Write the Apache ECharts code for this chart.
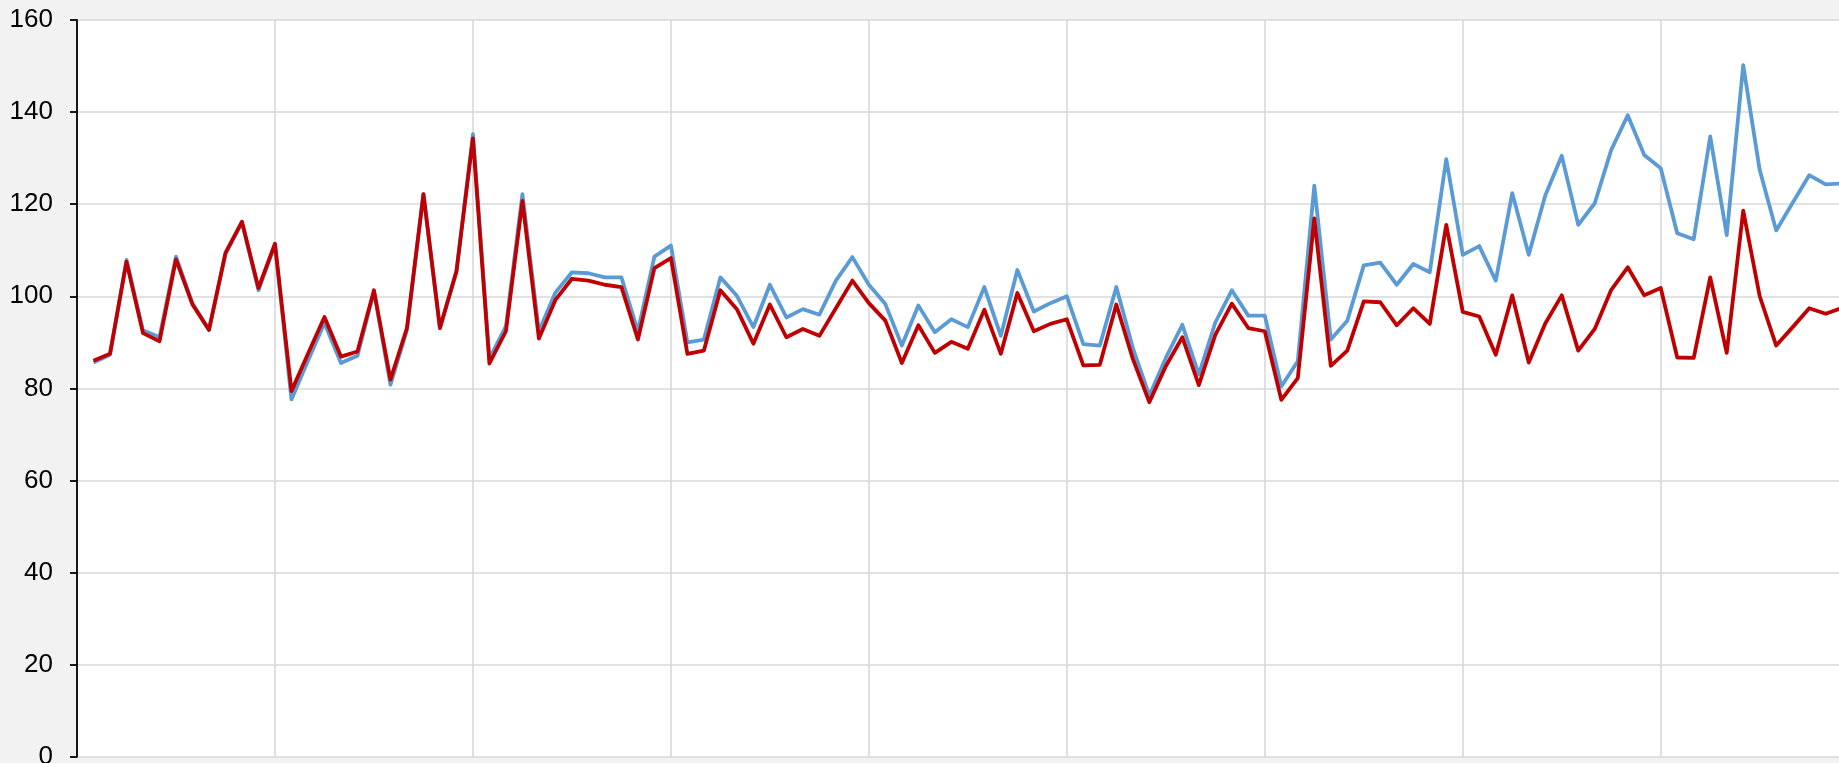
<!DOCTYPE html>
<html>
<head>
<meta charset="utf-8">
<script src="https://cdn.jsdelivr.net/npm/echarts@6/dist/echarts.min.js"></script>
<style>
html,body{margin:0;padding:0;background:#f2f2f2;}
#chart{width:1839px;height:763px;}
</style>
</head>
<body>
<div id="chart"></div>
<script>
// Period index of the first data point (axis starts one period earlier, at 0)
const firstPeriod = 1;
const periodsPerGridLine = 12;
const yTicks = [0, 20, 40, 60, 80, 100, 120, 140, 160];

const seriesBlue = [
  85.6, 87.3, 107.9, 92.6, 91.1, 108.6, 98.5, 92.7, 109.2, 116.0, 101.3, 111.2,
  77.6, 86.0, 94.2, 85.5, 87.1, 101.0, 80.8, 92.7, 122.2, 93.1, 105.4, 135.2,
  86.4, 93.5, 122.2, 92.4, 100.8, 105.2, 105.0, 104.1, 104.1, 92.4, 108.6, 111.0,
  90.0, 90.6, 104.1, 100.1, 93.3, 102.5, 95.4, 97.2, 96.0, 103.4, 108.5, 102.5,
  98.3, 89.3, 98.0, 92.2, 95.0, 93.3, 102.0, 91.4, 105.7, 96.7, 98.5, 100.0,
  89.6, 89.3, 102.0, 88.8, 78.4, 86.6, 93.8, 83.0, 94.3, 101.3, 95.8, 95.8,
  80.4, 85.9, 124.0, 90.6, 94.7, 106.7, 107.3, 102.5, 107.0, 105.2, 129.8, 109.0,
  110.9, 103.4, 122.4, 109.0, 121.9, 130.5, 115.5, 120.2, 131.8, 139.3, 130.7, 127.8,
  113.7, 112.4, 134.7, 113.3, 150.2, 127.4, 114.3, 120.3, 126.3, 124.3, 124.5
];

const seriesRed = [
  86.0, 87.5, 107.5, 92.0, 90.2, 108.0, 98.2, 92.7, 109.4, 116.2, 101.8, 111.4,
  79.4, 87.5, 95.5, 86.9, 88.0, 101.3, 81.9, 93.1, 122.2, 93.1, 105.4, 134.3,
  85.4, 92.4, 120.7, 90.8, 99.2, 103.8, 103.4, 102.5, 102.0, 90.6, 106.1, 108.3,
  87.5, 88.2, 101.3, 97.2, 89.7, 98.2, 91.1, 92.9, 91.4, 97.4, 103.4, 98.5,
  94.7, 85.5, 93.7, 87.7, 90.1, 88.6, 97.1, 87.5, 100.7, 92.4, 94.0, 95.0,
  85.0, 85.1, 98.2, 86.4, 77.0, 84.8, 91.1, 80.7, 91.6, 98.4, 93.1, 92.4,
  77.5, 82.2, 116.9, 84.9, 88.2, 98.9, 98.7, 93.7, 97.4, 94.0, 115.5, 96.6,
  95.6, 87.3, 100.2, 85.6, 94.1, 100.2, 88.2, 92.9, 101.4, 106.3, 100.2, 101.8,
  86.7, 86.6, 104.1, 87.7, 118.6, 100.0, 89.3, 93.3, 97.4, 96.2, 97.5
];

const toPairs = arr => arr.map((v, k) => [firstPeriod + k, v]);

const chart = echarts.init(document.getElementById('chart'), null, {renderer: 'canvas'});
chart.setOption({
  animation: false,
  backgroundColor: '#f2f2f2',
  grid: {
    left: 77, top: 20, width: 1781.7, height: 736.7,
    outerBoundsMode: 'none', containLabel: false,
    show: true, backgroundColor: '#ffffff', borderWidth: 0
  },
  xAxis: {
    type: 'value', min: 0, max: 108, interval: periodsPerGridLine,
    axisLine: {show: false}, axisTick: {show: false}, axisLabel: {show: false},
    splitLine: {show: true, lineStyle: {color: '#d9d9d9', width: 1.6}}
  },
  yAxis: {
    type: 'value', min: yTicks[0], max: yTicks[yTicks.length - 1], interval: 20,
    axisLine: {show: true, lineStyle: {color: '#000', width: 1.8}},
    axisTick: {show: true, length: 7, lineStyle: {color: '#000', width: 1.8}},
    axisLabel: {color: '#000', fontSize: 26, fontFamily: 'Liberation Sans, Arial, sans-serif', margin: 24},
    splitLine: {show: true, lineStyle: {color: '#d9d9d9', width: 1.6}}
  },
  series: [
    {type: 'line', data: toPairs(seriesBlue), symbol: 'none',
     lineStyle: {color: '#5b9bd5', width: 3.8, join: 'round'}, itemStyle: {color: '#5b9bd5'}},
    {type: 'line', data: toPairs(seriesRed), symbol: 'none',
     lineStyle: {color: '#c00000', width: 3.8, join: 'round'}, itemStyle: {color: '#c00000'}}
  ]
});
</script>
</body>
</html>
